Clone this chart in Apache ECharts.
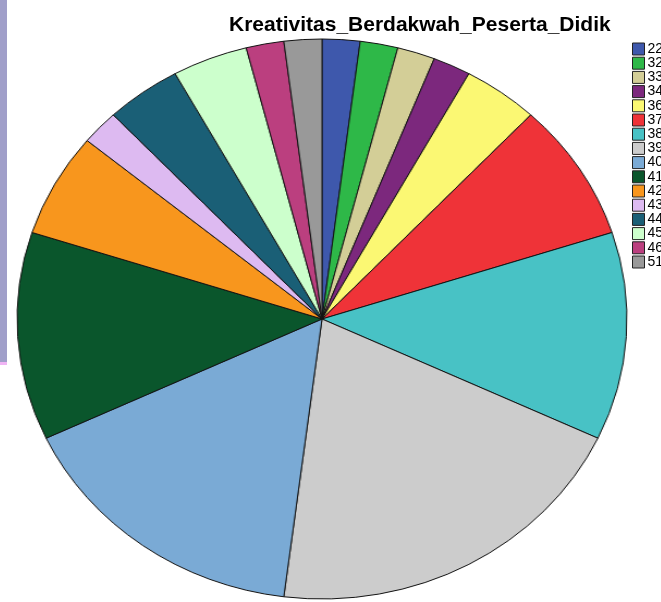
<!DOCTYPE html>
<html>
<head>
<meta charset="utf-8">
<script src="https://cdn.jsdelivr.net/npm/echarts@6/dist/echarts.min.js"></script>
<style>
  html, body { margin: 0; padding: 0; background: #fff; }
  #wrap { position: relative; width: 661px; height: 602px; overflow: hidden; }
  #pie { position: absolute; left: 0; top: 0; width: 661px; height: 602px;
         transform-origin: 322px 319px; transform: scaleX(1.089); }
  #front { position: absolute; left: 0; top: 0; width: 661px; height: 602px; }
</style>
</head>
<body>
<div id="wrap">
  <div id="pie"></div>
  <div id="front"></div>
</div>
<script>
// skor kreativitas dan jumlah peserta didik
const categories = ['22', '32', '33', '34', '36', '37', '38', '39', '40', '41', '42', '43', '44', '45', '46', '51']
const counts = [1, 1, 1, 1, 2, 4, 6, 10, 8, 6, 3, 1, 2, 2, 1, 1]
const colors = ['#3e58ac', '#2eb848', '#d3ce97', '#7c287d', '#fbf873', '#ef3338', '#48c2c5', '#cccccc',
  '#7aaad5', '#0a562c', '#f8961d', '#ddbaf1', '#1a5f76', '#ccffcc', '#bb3f7f', '#999999']

const pieData = categories.map((c, i) => ({ name: c, value: counts[i] }))

// pie (stretched horizontally with css, the SPSS output is an ellipse)
const pieChart = echarts.init(document.getElementById('pie'))
pieChart.setOption({
  animation: false,
  color: colors,
  series: [
    {
      type: 'pie',
      center: [322, 319],
      radius: [0, 280],
      startAngle: 90,
      clockwise: true,
      label: { show: false },
      labelLine: { show: false },
      emphasis: { disabled: true },
      itemStyle: { borderColor: '#111', borderWidth: 1 },
      data: pieData
    }
  ]
})

// title, legend and the frame bits on the left
const front = echarts.init(document.getElementById('front'))
front.setOption({
  animation: false,
  color: colors,
  title: {
    text: 'Kreativitas_Berdakwah_Peserta_Didik',
    left: 229,
    top: 15,
    padding: 0,
    textStyle: { fontFamily: 'Liberation Sans', fontSize: 21, fontWeight: 'bold', color: '#000' }
  },
  legend: {
    orient: 'vertical',
    left: 632,
    top: 42,
    padding: 0,
    itemWidth: 12,
    itemHeight: 12,
    itemGap: 0.2,
    icon: 'rect',
    itemStyle: { borderColor: '#222', borderWidth: 1 },
    textStyle: { fontFamily: 'Liberation Sans', fontSize: 14, lineHeight: 14, color: '#000', padding: [0, 0, 0, -2] },
    data: categories
  },
  graphic: [
    { type: 'rect', shape: { x: 0, y: 0, width: 7, height: 362 }, style: { fill: '#a09fc9' } },
    { type: 'rect', shape: { x: 0, y: 362, width: 7, height: 3 }, style: { fill: '#f0b4f4' } }
  ],
  series: [
    {
      type: 'pie',
      radius: [0, 0],
      silent: true,
      label: { show: false },
      labelLine: { show: false },
      data: pieData
    }
  ]
})
</script>
</body>
</html>
